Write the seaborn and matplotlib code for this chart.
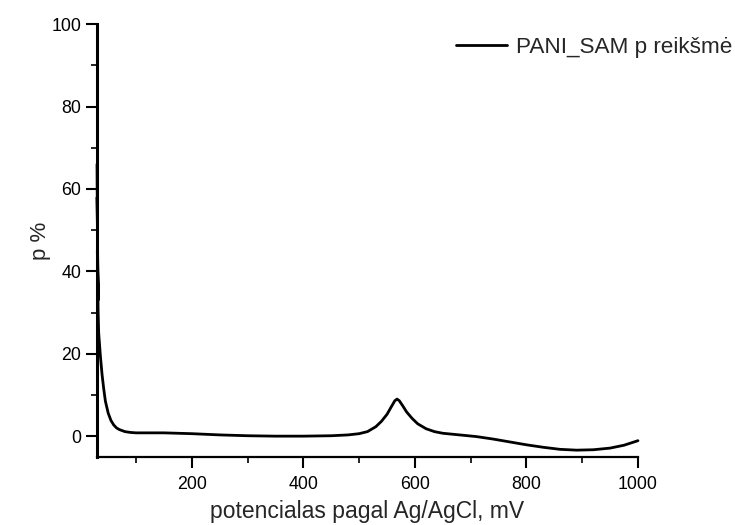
import numpy as np
import pandas as pd
import seaborn as sns
import matplotlib.pyplot as plt
from matplotlib.ticker import MultipleLocator

# potential vs Ag/AgCl (mV) and p value (%); the first points are the noisy start-up spike
potential_mv = [30, 31.5, 30.3, 31.8, 30.6, 32, 33, 36, 39, 42, 45, 50, 55, 60, 65, 70, 80,
                90, 100, 150, 200, 250, 300, 350, 400, 450, 480, 500, 515, 530, 540,
                550, 558, 564, 568, 572, 578, 585, 595, 605, 620, 635, 650, 680, 710,
                740, 770, 800, 830, 860, 890, 920, 950, 975, 1000]
p_percent = [66, 34, 58, 33, 45, 30, 25, 19.5, 15, 11.5, 8.5, 5.6, 3.8, 2.7, 2.0, 1.6, 1.1,
             0.9, 0.8, 0.8, 0.6, 0.3, 0.1, 0.0, 0.0, 0.1, 0.3, 0.6, 1.1, 2.3, 3.6,
             5.3, 7.2, 8.6, 9.0, 8.6, 7.4, 5.9, 4.3, 3.0, 1.8, 1.1, 0.7, 0.3, -0.1,
             -0.7, -1.4, -2.1, -2.7, -3.2, -3.4, -3.3, -2.9, -2.2, -1.1]
series_label = "PANI_SAM p reikšmė"
x_ticks = [200, 400, 600, 800, 1000]
y_ticks = [0, 20, 40, 60, 80, 100]

sns.set_style("white")
plt.rcParams['font.family'] = ['Liberation Sans', 'DejaVu Sans']

df = pd.DataFrame({"potential": potential_mv, "p": p_percent})

fig = plt.figure(figsize=(7.35, 5.25), dpi=100)
ax = fig.add_axes([0.132, 0.130, 0.736, 0.824])

sns.lineplot(data=df, x="potential", y="p", ax=ax, color="black", linewidth=2.0,
             sort=False, estimator=None, label=series_label)
for line in ax.get_lines():
    line.set_clip_on(False)

ax.set_xlim(30, 1000)
ax.set_ylim(-5, 100)
ax.set_xticks(x_ticks)
ax.set_yticks(y_ticks)
ax.xaxis.set_minor_locator(MultipleLocator(100))
ax.yaxis.set_minor_locator(MultipleLocator(10))

ax.tick_params(which="major", direction="out", length=8, width=1.5, color="black",
               labelsize=12.8, labelcolor="black", bottom=True, left=True)
ax.tick_params(which="minor", direction="out", length=4, width=1.2, color="black",
               bottom=True, left=True)
ax.tick_params(axis="x", which="major", pad=6)

for side in ("top", "right"):
    ax.spines[side].set_visible(False)
ax.spines["left"].set_linewidth(2.2)
ax.spines["bottom"].set_linewidth(1.6)
ax.spines["left"].set_color("black")
ax.spines["bottom"].set_color("black")

ax.set_xlabel("potencialas pagal Ag/AgCl, mV", fontsize=16.5, labelpad=5)
ax.set_ylabel("p %", fontsize=16, labelpad=0)

ax.legend(loc="center right", bbox_to_anchor=(1.0, 0.910),
          bbox_transform=fig.transFigure, frameon=False, fontsize=16.2,
          handlelength=2.3, handletextpad=0.4, borderaxespad=0.0, borderpad=0.1)

fig.savefig("out.png", dpi=100, facecolor="white")
